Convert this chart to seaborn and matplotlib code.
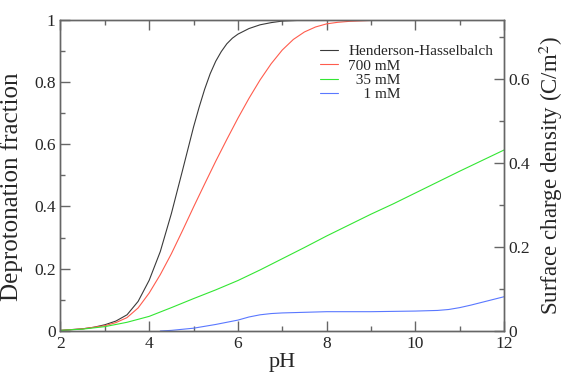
import matplotlib
matplotlib.use("Agg")
import matplotlib.pyplot as plt
from matplotlib.ticker import MultipleLocator
import seaborn as sns
import pandas as pd

# Valores (fraccion desprotonada frente a pH)
ph_hh = [2.0, 2.5, 2.75, 3.0, 3.25, 3.5, 3.75, 4.0, 4.25, 4.5, 4.75, 5.0, 5.125,
         5.25, 5.375, 5.5, 5.625, 5.75, 5.875, 6.0, 6.25, 6.5, 6.75, 7.0, 7.5, 8.0]
frac_hh = [0.002, 0.007, 0.012, 0.020, 0.032, 0.052, 0.095, 0.163, 0.255, 0.377,
           0.515, 0.655, 0.718, 0.776, 0.826, 0.866, 0.897, 0.922, 0.940, 0.953,
           0.971, 0.983, 0.990, 0.995, 0.998, 1.0]

ph_700 = [2.0, 2.5, 3.0, 3.25, 3.5, 3.75, 4.0, 4.25, 4.5, 4.75, 5.0, 5.25, 5.5,
          5.75, 6.0, 6.25, 6.5, 6.75, 7.0, 7.25, 7.5, 7.75, 8.0, 8.25, 8.5, 9.0, 9.6]
frac_700 = [0.002, 0.007, 0.017, 0.027, 0.043, 0.074, 0.122, 0.181, 0.248, 0.322,
            0.398, 0.472, 0.545, 0.615, 0.683, 0.747, 0.806, 0.858, 0.902, 0.936,
            0.960, 0.976, 0.986, 0.991, 0.994, 0.997, 0.998]

ph_35 = [2.0, 2.5, 3.0, 3.5, 4.0, 4.5, 5.0, 5.5, 6.0, 6.5, 7.0, 7.5, 8.0, 8.5,
         9.0, 9.5, 10.0, 10.5, 11.0, 11.5, 12.0]
frac_35 = [0.002, 0.006, 0.014, 0.028, 0.047, 0.075, 0.104, 0.132, 0.162, 0.196,
           0.232, 0.268, 0.305, 0.340, 0.375, 0.408, 0.443, 0.478, 0.513, 0.547, 0.581]

ph_1 = [4.25, 4.5, 5.0, 5.5, 6.0, 6.25, 6.5, 6.75, 7.0, 7.5, 8.0, 8.5, 9.0, 9.5,
        10.0, 10.5, 10.75, 11.0, 11.25, 11.5, 11.75, 12.0]
frac_1 = [0.000, 0.002, 0.009, 0.021, 0.035, 0.045, 0.052, 0.056, 0.058, 0.060,
          0.062, 0.062, 0.062, 0.063, 0.064, 0.066, 0.069, 0.075, 0.083, 0.092,
          0.101, 0.110]

series = [
    ("Henderson-Hasselbalch", ph_hh, frac_hh, "#3a3a3a"),
    ("700 mM", ph_700, frac_700, "#ff5c4d"),
    ("  35 mM", ph_35, frac_35, "#33e633"),
    ("    1 mM", ph_1, frac_1, "#5a78ff"),
]

sns.set_theme(style="ticks")
plt.rcParams["font.family"] = ["Liberation Serif", "DejaVu Serif"]
plt.rcParams["mathtext.fontset"] = "stix"

fig, ax = plt.subplots(figsize=(5.67, 3.73), dpi=100)
fig.subplots_adjust(left=0.1067, right=0.8889, bottom=0.1126, top=0.9477)

for label, x, y, color in series:
    df = pd.DataFrame({"pH": x, "frac": y})
    sns.lineplot(data=df, x="pH", y="frac", ax=ax, color=color,
                 linewidth=0.8, label=label)

spine_col = "#666666"
ax.set_xlim(2, 12)
ax.set_ylim(0, 1)
ax.xaxis.set_major_locator(MultipleLocator(2))
ax.xaxis.set_minor_locator(MultipleLocator(1))
ax.yaxis.set_minor_locator(MultipleLocator(0.1))
ax.set_yticks([0, 0.2, 0.4, 0.6, 0.8, 1])
ax.set_yticklabels(["0", "0.2", "0.4", "0.6", "0.8", "1"])
ax.tick_params(which="both", direction="in", top=True, right=False,
               color=spine_col, labelsize=12.5, width=1)
ax.tick_params(which="major", length=7)
ax.tick_params(which="minor", length=3.6)
ax.set_xlabel("pH", fontsize=16, labelpad=1)
ax.set_ylabel("Deprotonation fraction", fontsize=18)
ax.yaxis.set_label_coords(-0.085, 0.462)

ax2 = ax.twinx()
ax2.set_ylim(0, 0.742)
ax2.set_yticks([0, 0.2, 0.4, 0.6])
ax2.set_yticklabels(["0", "0.2", "0.4", "0.6"])
ax2.yaxis.set_minor_locator(MultipleLocator(0.1))
ax2.tick_params(which="both", direction="in", color=spine_col, labelsize=12.5, width=1)
ax2.tick_params(which="major", length=7)
ax2.tick_params(which="minor", length=3.6)
ax2.set_ylabel("Surface charge density (C/m$^2$)", fontsize=16.5)
ax2.yaxis.set_label_coords(1.074, 0.5)

for a in (ax, ax2):
    for s in a.spines.values():
        s.set_color(spine_col)
        s.set_linewidth(1)

ax.legend(loc="upper left", bbox_to_anchor=(0.585, 0.92), frameon=False,
          fontsize=11, handlelength=1.2, handletextpad=0.65,
          labelspacing=0.05, borderpad=0, borderaxespad=0)

fig.savefig("out.png", dpi=100)
